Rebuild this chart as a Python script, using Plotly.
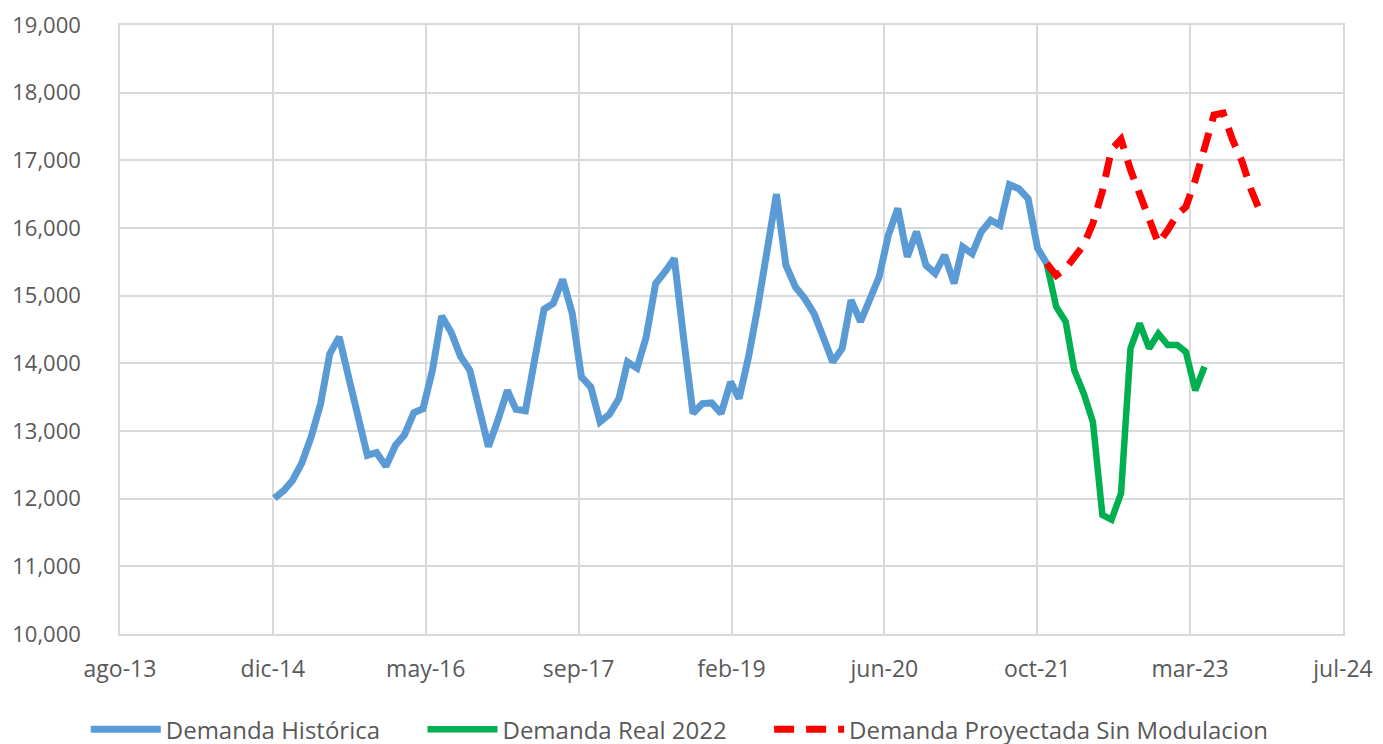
import pandas as pd
import plotly.graph_objects as go

# ---------------- data ----------------
historica = [
    12005, 12120, 12270, 12530, 12910, 13400, 14140, 14390, 13790, 13170, 12640, 12680,  # 2015
    12480, 12790, 12940, 13270, 13330, 13900, 14700, 14460, 14100, 13900, 13360, 12770,  # 2016
    13160, 13600, 13320, 13300, 14050, 14800, 14885, 15240, 14740, 13800, 13650, 13135,  # 2017
    13250, 13480, 14020, 13930, 14390, 15180, 15350, 15550, 14350, 13260, 13405, 13415,  # 2018
    13260, 13725, 13480, 14100, 14835, 15620, 16500, 15450, 15130, 14960, 14735, 14390,  # 2019
    14020, 14220, 14935, 14615, 14960, 15280, 15895, 16290, 15575, 15945, 15450, 15330,  # 2020
    15600, 15180, 15720, 15620, 15945, 16115, 16040, 16640, 16580, 16435, 15700, 15475,  # 2021
]
real_2022 = [15475, 14835, 14615, 13900, 13555, 13135, 11760, 11690, 12080, 14220, 14590, 14220,
             14440, 14270, 14270, 14170, 13600, 13950]
proyectada = [15475, 15300, 15400, 15550, 15750, 16070, 16540, 17160, 17310, 16860, 16490, 16095,
              15775, 15970, 16200, 16310, 16710, 17180, 17670, 17700, 17300, 16980, 16560, 16220]

hist_start = "2015-01-01"
real_start = "2021-12-01"
proj_start = "2021-12-01"

tick_labels = ["ago-13", "dic-14", "may-16", "sep-17", "feb-19", "jun-20", "oct-21", "mar-23", "jul-24"]
tick_serials = [41500, 42000, 42500, 43000, 43500, 44000, 44500, 45000, 45500]

series_names = ["Demanda Histórica", "Demanda Real 2022", "Demanda Proyectada Sin Modulacion"]
colors = ["#5B9BD5", "#00B050", "#FF0000"]

# ---------------- build ----------------
excel_base = pd.Timestamp("1899-12-30")
tick_dates = [excel_base + pd.Timedelta(days=s) for s in tick_serials]

x_hist = pd.date_range(hist_start, periods=len(historica), freq="MS")
x_real = pd.date_range(real_start, periods=len(real_2022), freq="MS")
x_proj = pd.date_range(proj_start, periods=len(proyectada), freq="MS")

FONT = "Open Sans"
TXT = "#595959"
GRID = "#D9D9D9"
PAD = "\u00a0" * 6  # spacing between legend entries

fig = go.Figure()
fig.add_trace(go.Scatter(x=x_hist, y=historica, mode="lines", name=series_names[0] + PAD,
                         line=dict(color=colors[0], width=7)))
fig.add_trace(go.Scatter(x=x_real, y=real_2022, mode="lines", name=series_names[1] + PAD,
                         line=dict(color=colors[1], width=6.5)))
fig.add_trace(go.Scatter(x=x_proj, y=proyectada, mode="lines", name=series_names[2],
                         line=dict(color=colors[2], width=7, dash="20px,12px")))

# page body has an 8px default margin, so the figure is offset by 8px
fig.update_layout(
    width=1375, height=736,
    margin=dict(l=112, r=40, t=17, b=110, autoexpand=False),
    paper_bgcolor="white", plot_bgcolor="white",
    font=dict(family=FONT, color=TXT, size=22),
    showlegend=True,
    legend=dict(orientation="h", x=-0.028, xanchor="left", y=-0.12, yanchor="top",
                font=dict(family=FONT, size=24, color=TXT), itemwidth=70,
                bgcolor="rgba(0,0,0,0)"),
)
fig.update_xaxes(
    type="date", range=[tick_dates[0], tick_dates[-1]],
    tickmode="array", tickvals=tick_dates, ticktext=tick_labels,
    showgrid=True, gridcolor=GRID, gridwidth=1.5,
    showline=True, linecolor=GRID, linewidth=1.5, mirror=True,
    ticks="", ticklabelstandoff=14, automargin=False,
    tickfont=dict(family=FONT, size=23, color=TXT),
    zeroline=False,
)
fig.update_yaxes(
    range=[10000, 19000], dtick=1000, tick0=10000, tickformat=",",
    showgrid=True, gridcolor=GRID, gridwidth=1.5,
    showline=True, linecolor=GRID, linewidth=1.5, mirror=True,
    ticks="", ticklabelstandoff=33, automargin=False,
    tickfont=dict(family=FONT, size=22, color=TXT),
    zeroline=False,
)

fig.write_html("out.html")
